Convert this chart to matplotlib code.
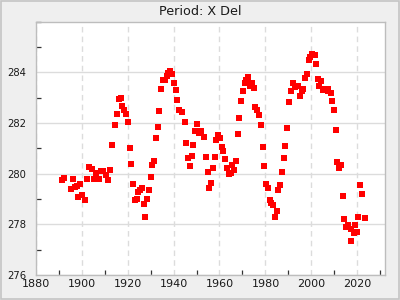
"""
Period: X Del — scatter of yearly values.
Output: out.png
"""

import matplotlib
matplotlib.use("Agg")
import matplotlib.pyplot as plt
from matplotlib.patches import Rectangle
from matplotlib.ticker import MultipleLocator

# ── Data ──────────────────────────────────────────────────────────────────────
years = [
    1891.6, 1892.5, 1895.5, 1896.4, 1897.2, 1898.1, 1898.5, 1899.4, 1900.3, 1901.6,
    1902.5, 1903.3, 1904.6, 1905.5, 1906.4, 1907.7, 1908.6, 1909.4, 1910.7, 1911.6,
    1912.5, 1913.3, 1914.7, 1915.5, 1916.4, 1917.3, 1917.7, 1918.6, 1919.4, 1920.3,
    1921.2, 1921.6, 1922.5, 1923.4, 1924.2, 1924.7, 1925.5, 1926.4, 1927.3, 1927.7,
    1928.6, 1929.5, 1930.3, 1930.8, 1931.6, 1932.5, 1933.4, 1933.8, 1934.7, 1935.6,
    1936.4, 1937.3, 1937.7, 1938.6, 1939.5, 1940.3, 1941.2, 1941.6, 1942.5, 1943.8,
    1945.1, 1945.6, 1946.4, 1947.3, 1948.2, 1948.6, 1949.5, 1950.4, 1951.2, 1952.1,
    1953.4, 1954.3, 1955.1, 1955.6, 1956.4, 1957.3, 1958.2, 1958.6, 1959.5, 1960.4,
    1961.2, 1961.7, 1962.5, 1963.4, 1964.3, 1965.2, 1965.6, 1966.5, 1967.3, 1968.2,
    1968.6, 1969.5, 1970.4, 1971.3, 1971.7, 1972.6, 1973.4, 1974.3, 1975.2, 1975.6,
    1976.5, 1977.3, 1978.2, 1979.1, 1979.5, 1980.4, 1981.3, 1982.1, 1982.6, 1983.4,
    1984.3, 1985.2, 1985.6, 1986.5, 1987.4, 1988.2, 1988.7, 1989.5, 1990.4, 1991.3,
    1992.1, 1993.0, 1994.3, 1995.2, 1996.1, 1996.5, 1997.4, 1998.2, 1999.1, 1999.5,
    2000.4, 2001.7, 2002.2, 2003.0, 2003.5, 2004.3, 2005.2, 2006.1, 2007.0, 2007.4,
    2008.3, 2009.1, 2010.0, 2010.9, 2011.3, 2012.2, 2013.0, 2013.9, 2014.3, 2015.2,
    2016.1, 2017.0, 2017.4, 2018.3, 2019.1, 2020.0, 2020.4, 2021.3, 2022.2, 2023.1,
]
values = [
    279.74, 279.81, 279.38, 279.78, 279.46, 279.50, 279.07, 279.58, 279.14, 278.95,
    279.78, 280.25, 280.17, 279.78, 280.01, 279.78, 280.09, 280.09, 279.93, 279.74,
    280.13, 281.12, 281.91, 282.35, 282.93, 282.97, 282.67, 282.50, 282.35, 282.02,
    281.00, 280.37, 279.58, 278.95, 278.99, 279.26, 279.34, 279.42, 278.79, 278.28,
    278.99, 279.34, 279.85, 280.33, 280.49, 281.39, 281.83, 282.46, 283.36, 283.68,
    283.68, 283.84, 283.96, 284.04, 283.92, 283.56, 283.29, 282.89, 282.50, 282.42,
    282.02, 281.20, 280.60, 280.29, 280.68, 281.12, 281.67, 281.98, 281.59, 281.67,
    281.43, 280.64, 280.05, 279.42, 279.62, 280.21, 280.64, 281.31, 281.51, 281.39,
    281.04, 280.88, 280.56, 280.21, 279.97, 280.01, 280.33, 280.13, 280.49, 281.55,
    282.18, 282.85, 283.25, 283.56, 283.68, 283.80, 283.48, 283.56, 283.40, 282.65,
    282.50, 282.30, 281.91, 281.04, 280.29, 279.58, 279.42, 278.95, 278.83, 278.75,
    278.28, 278.51, 279.34, 279.54, 280.05, 280.60, 281.08, 281.79, 282.81, 283.25,
    283.56, 283.44, 283.48, 283.05, 283.25, 283.36, 283.76, 283.92, 284.47, 284.59,
    284.71, 284.67, 284.31, 283.72, 283.48, 283.64, 283.29, 283.33, 283.33, 283.25,
    283.17, 282.85, 282.50, 281.71, 280.45, 280.21, 280.33, 279.10, 278.20, 277.88,
    277.96, 277.80, 277.33, 277.64, 277.96, 277.68, 278.28, 279.54, 279.18, 278.24,
]

TITLE = "Period: X Del"
X_RANGE = (1880, 2032)
Y_RANGE = (276, 286)
X_MAJOR, X_MINOR = 20, 10
Y_MAJOR, Y_MINOR = 2, 1

# ── Colours ───────────────────────────────────────────────────────────────────
FIG_BG = "#efefef"
BORDER = "#c4c4c4"
SPINE = "#bdbdbd"
GRID = "#dcdcdc"
MARK = "#ff0000"
TEXT = "#1a1a1a"


def main():
    fig = plt.figure(figsize=(4, 3), dpi=100)
    fig.patch.set_facecolor(FIG_BG)
    fig.patches.append(Rectangle((0.0015, 0.002), 0.997, 0.996, transform=fig.transFigure,
                                 fill=False, edgecolor=BORDER, linewidth=1.2))

    ax = fig.add_axes([0.089, 0.0833, 0.8735, 0.8445])
    ax.set_facecolor("white")
    ax.set_xlim(*X_RANGE)
    ax.set_ylim(*Y_RANGE)

    ax.xaxis.set_major_locator(MultipleLocator(X_MAJOR))
    ax.xaxis.set_minor_locator(MultipleLocator(X_MINOR))
    ax.yaxis.set_major_locator(MultipleLocator(Y_MAJOR))
    ax.yaxis.set_minor_locator(MultipleLocator(Y_MINOR))
    ax.set_yticks([276, 278, 280, 282, 284])

    ax.grid(True, axis="y", which="major", color=GRID, linewidth=1.0, linestyle="-")
    ax.grid(True, axis="x", which="major", color=GRID, linewidth=1.0, linestyle=(0, (4, 3)))
    ax.set_axisbelow(True)

    ax.tick_params(which="major", length=0, colors=TEXT)
    ax.tick_params(axis="x", which="major", labelsize=8, pad=3)
    ax.tick_params(axis="y", which="major", labelsize=7.2, pad=7)
    ax.tick_params(which="minor", direction="in", length=3.5, width=0.9, color="#333333")

    for sp in ax.spines.values():
        sp.set_color(SPINE)
        sp.set_linewidth(1.0)

    ax.plot(years, values, linestyle="none", marker="s", markersize=4.6,
            markerfacecolor=MARK, markeredgewidth=0, zorder=3)

    fig.text(0.5, 0.95, TITLE, ha="center", va="baseline", fontsize=9.2, color=TEXT)

    fig.savefig("out.png", dpi=100, facecolor=FIG_BG)


if __name__ == "__main__":
    main()
